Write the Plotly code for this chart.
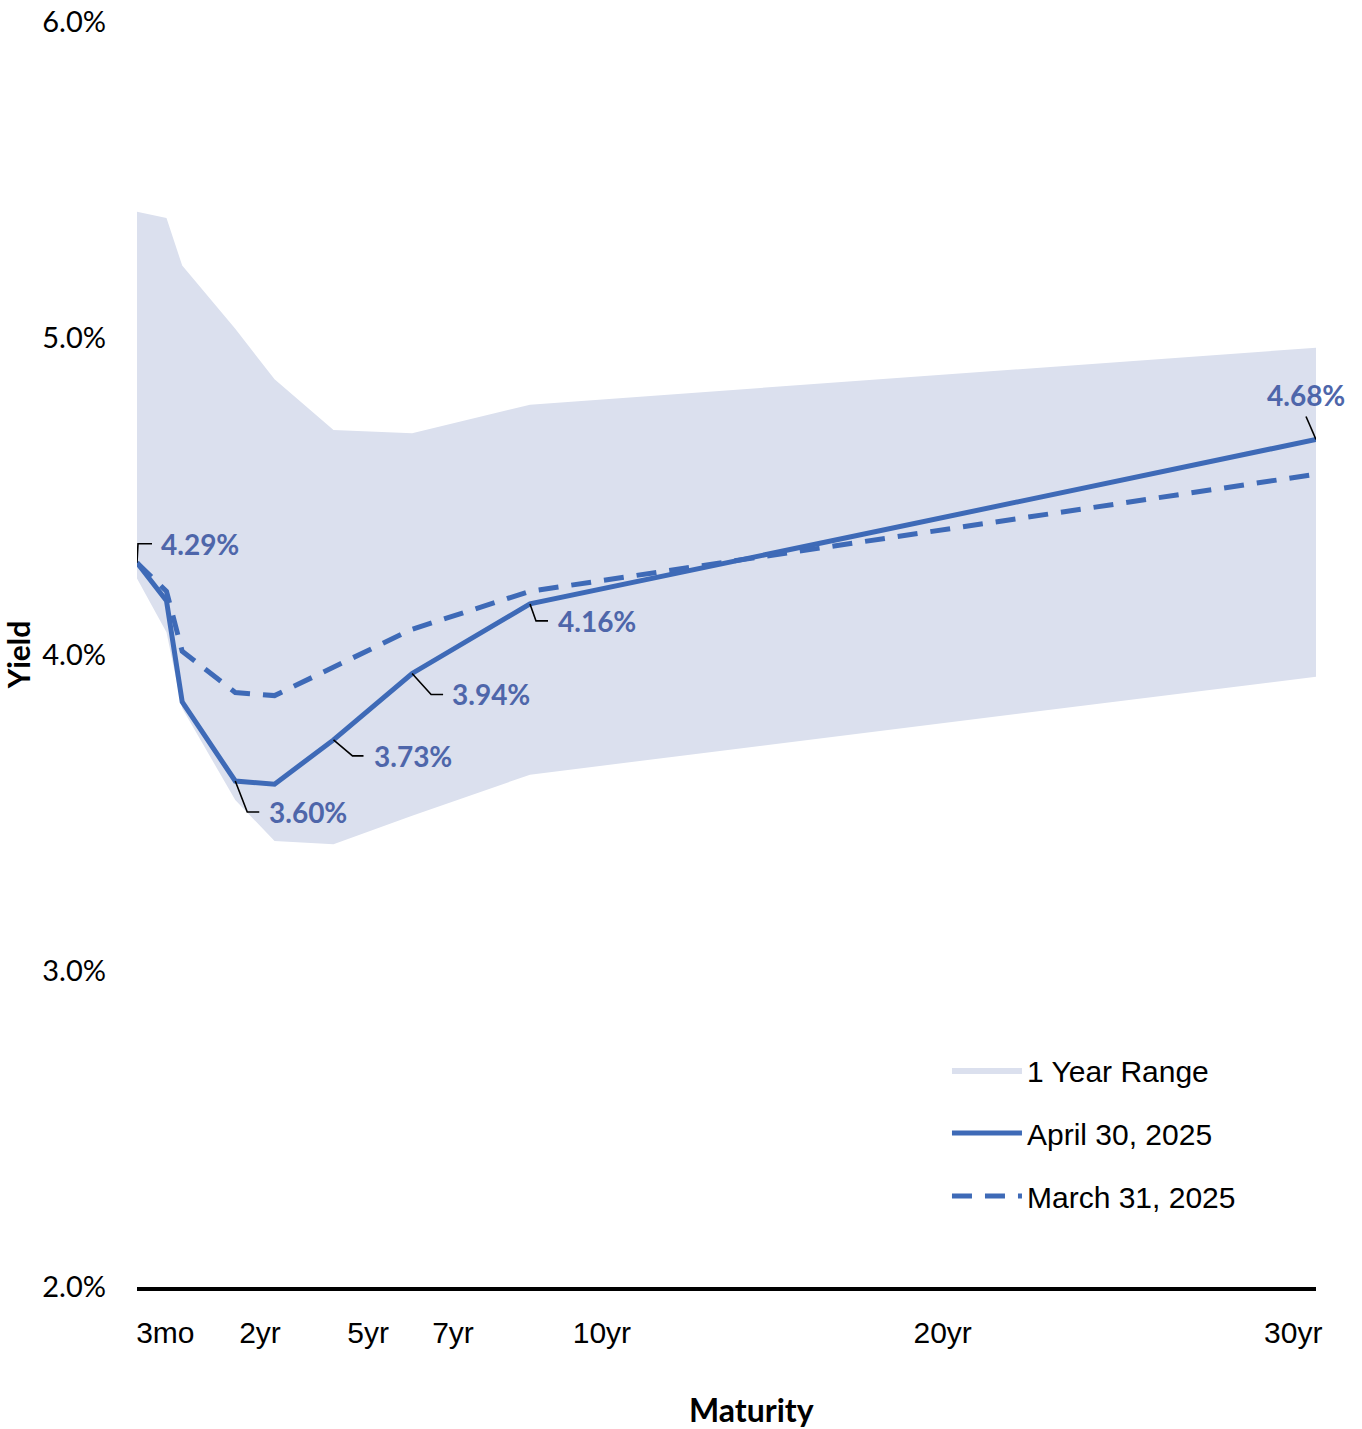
import plotly.graph_objects as go

# ---- data ----
maturity_pos = [0, 0.75, 1.15, 2.5, 3.5, 5, 7, 10, 30]
april_2025 = [4.29, 4.17, 3.85, 3.60, 3.59, 3.73, 3.94, 4.16, 4.68]
march_2025 = [4.29, 4.20, 4.01, 3.88, 3.87, 3.96, 4.08, 4.20, 4.57]
range_high = [5.40, 5.38, 5.23, 5.03, 4.87, 4.71, 4.70, 4.79, 4.97]
range_low = [4.24, 4.07, 3.83, 3.54, 3.41, 3.40, 3.49, 3.62, 3.93]

tick_pos = [0.72, 3.13, 5.88, 8.04, 11.83, 20.5, 29.42]
tick_labels = ["3mo", "2yr", "5yr", "7yr", "10yr", "20yr", "30yr"]
y_ticks = [2, 3, 4, 5, 6]
y_tick_labels = [f"{v:.1f}%" for v in y_ticks]

labelled_idx = [0, 3, 5, 6, 7, 8]

# ---- styles ----
LINE = "#3e6ab7"
LABEL = "#4e66aa"
BAND = "#dbe0ee"

fig = go.Figure()
fig.add_trace(go.Scatter(x=maturity_pos, y=range_low, mode="lines",
                         line=dict(width=0, color=BAND), showlegend=False,
                         hoverinfo="skip"))
fig.add_trace(go.Scatter(x=maturity_pos, y=range_high, mode="lines",
                         line=dict(width=0, color=BAND), fill="tonexty",
                         fillcolor=BAND, name="1 Year Range",
                         legendgroup="a", legendrank=1))
fig.add_trace(go.Scatter(x=maturity_pos, y=april_2025, mode="lines",
                         line=dict(width=5, color=LINE), name="April 30, 2025",
                         legendgroup="b", legendrank=2))
fig.add_trace(go.Scatter(x=maturity_pos, y=march_2025, mode="lines",
                         line=dict(width=5, color=LINE, dash="20px,13px"),
                         name="March 31, 2025", legendgroup="c", legendrank=3))

# label offsets (pixels): (label dx, label dy, xanchor, leader path)
label_style = {
    0: (22, 19, "left", "M0,0L1,19L15,19"),
    3: (32, -31, "left", "M0,0L12,-31L24,-31"),
    5: (38, -16, "left", "M0,0L19,-16L30,-16"),
    6: (38, -21, "left", "M0,0L19,-21L31,-21"),
    7: (26, -17, "left", "M0,0L6,-17L18,-17"),
    8: (-10, 44, "center", "M0,0L-10,23"),
}

for i in labelled_idx:
    dx, dy, xa, path = label_style[i]
    fig.add_annotation(x=maturity_pos[i], y=april_2025[i], text=f"{april_2025[i]:.2f}%",
                       showarrow=False, xanchor=xa, yanchor="middle",
                       xshift=dx, yshift=dy,
                       font=dict(family="Lato", size=28, color=LABEL, weight="bold"))
    fig.add_shape(type="path", xref="x", yref="y",
                  xsizemode="pixel", ysizemode="pixel",
                  xanchor=maturity_pos[i], yanchor=april_2025[i],
                  path=path, line=dict(color="black", width=1.6))

fig.add_annotation(x=0.521, y=-0.097, xref="paper", yref="paper",
                   text="<b>Maturity</b>", showarrow=False,
                   xanchor="center", yanchor="middle",
                   font=dict(family="Lato", size=32, color="black"))

fig.update_layout(
    width=1362, height=1429,
    margin=dict(l=137, r=46, t=22, b=142, autoexpand=False),
    plot_bgcolor="white", paper_bgcolor="white",
    showlegend=True,
    legend=dict(x=0.687, y=0.192, xanchor="left", yanchor="top",
                font=dict(family="Liberation Sans", size=30, color="black"),
                bgcolor="rgba(0,0,0,0)", itemwidth=70, tracegroupgap=21,
                traceorder="grouped"),
    xaxis=dict(range=[0, 30], tickvals=tick_pos, ticktext=tick_labels,
               showgrid=False, zeroline=False, showline=True, linecolor="black",
               linewidth=4, ticks="", ticklabelstandoff=16, automargin=False,
               tickfont=dict(family="Liberation Sans", size=30, color="black")),
    yaxis=dict(range=[2, 6], tickvals=y_ticks, ticktext=y_tick_labels,
               showgrid=False, zeroline=False, showline=False, ticks="",
               ticklabelstandoff=30, automargin=False,
               tickfont=dict(family="Lato", size=29, color="black"),
               title=dict(text="<b>Yield</b>", standoff=2,
                          font=dict(family="Lato", size=30, color="black"))),
)

fig.write_html("out.html")
